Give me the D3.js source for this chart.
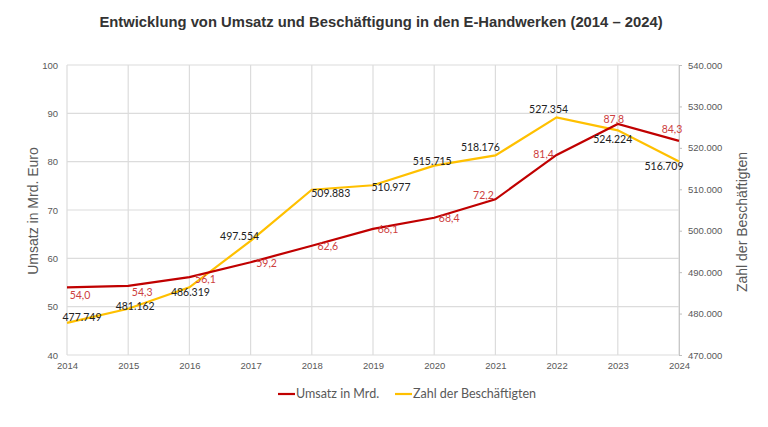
<!DOCTYPE html>
<html>
<head>
<meta charset="utf-8">
<script src="https://cdn.jsdelivr.net/npm/d3@7"></script>
<style>
  body { margin: 0; background: #fff; }
  svg { display: block; }
</style>
</head>
<body>
<svg width="768" height="427"></svg>
<script>
(function(){
  var years = [2014, 2015, 2016, 2017, 2018, 2019, 2020, 2021, 2022, 2023, 2024];
  var umsatz = [54.0, 54.3, 56.1, 59.2, 62.6, 66.1, 68.4, 72.2, 81.4, 87.8, 84.3];
  var beschaeftigte = [477749, 481162, 486319, 497554, 509883, 510977, 515715, 518176, 527354, 524224, 516709];
  var leftTicks = [40, 50, 60, 70, 80, 90, 100];
  var rightTicks = [470000, 480000, 490000, 500000, 510000, 520000, 530000, 540000];

  // label nudges (like excel's manual label placement)
  var redOff = [[13,8],[14,6],[16,2],[16,1],[16,1],[15,0],[15,1],[-12,-4],[-13,-1],[-4,-5],[-7,-12]];
  var blackOff = [[15,-6],[7,-2],[1,5],[-11,-5],[19,4],[18,2],[-2,-4],[-15,-8],[-8,-8],[-5,9],[-15,5]];

  var de = d3.formatLocale({decimal: ",", thousands: ".", grouping: [3], currency: ["", " €"]});
  var f1 = de.format(".1f"), fInt = de.format(",d");

  var svg = d3.select('svg');
  var m = {l: 67, r: 679, t: 65, b: 355};

  var x = d3.scaleLinear().domain([2014, 2024]).range([m.l, m.r]);
  var yL = d3.scaleLinear().domain([40, 100]).range([m.b, m.t]);
  var yR = d3.scaleLinear().domain([470000, 540000]).range([m.b, m.t]);

  svg.append("text")
    .attr("x", 381).attr("y", 27)
    .attr("text-anchor", "middle")
    .style("font-family", "Liberation Sans, Arial, sans-serif")
    .style("font-weight", "bold").style("font-size", "14.8px")
    .style("fill", "#333")
    .text("Entwicklung von Umsatz und Beschäftigung in den E-Handwerken (2014 – 2024)");

  // grid
  svg.append("g").selectAll("line").data(leftTicks).enter().append("line")
    .attr("x1", m.l).attr("x2", m.r)
    .attr("y1", function(d){ return yL(d); }).attr("y2", function(d){ return yL(d); })
    .style("stroke", "#dcdcdc").style("stroke-width", 1.2);
  svg.append("g").selectAll("line").data(years).enter().append("line")
    .attr("x1", function(d){ return x(d); }).attr("x2", function(d){ return x(d); })
    .attr("y1", m.t).attr("y2", m.b)
    .style("stroke", "#dcdcdc").style("stroke-width", 1.2);

  // axes
  var gx = svg.append("g").attr("transform", "translate(0," + m.b + ")")
    .call(d3.axisBottom(x).tickValues(years).tickFormat(d3.format("d")).tickSize(0).tickPadding(7));
  var gl = svg.append("g").attr("transform", "translate(" + m.l + ",0)")
    .call(d3.axisLeft(yL).tickValues(leftTicks).tickSize(0).tickPadding(9));
  var gr = svg.append("g").attr("transform", "translate(" + m.r + ",0)")
    .call(d3.axisRight(yR).tickValues(rightTicks).tickFormat(fInt).tickSize(3).tickPadding(6));
  [gx, gl, gr].forEach(function(g){
    g.selectAll(".domain").style("stroke", "#c8c8c8");
    g.selectAll(".tick line").style("stroke", "#bfbfbf");
    g.selectAll("text").style("font-family", "Liberation Sans, Arial, sans-serif")
      .style("font-size", "9.5px").style("fill", "#595959");
  });
  gx.select(".domain").remove();
  gl.select(".domain").remove();

  svg.append("text")
    .attr("transform", "translate(38,211) rotate(-90)")
    .attr("text-anchor", "middle")
    .style("font-family", "Liberation Sans, Arial, sans-serif")
    .style("font-size", "14px").style("fill", "#595959")
    .text("Umsatz in Mrd. Euro");
  svg.append("text")
    .attr("transform", "translate(747,222) rotate(-90)")
    .attr("text-anchor", "middle")
    .style("font-family", "Liberation Sans, Arial, sans-serif")
    .style("font-size", "14px").style("fill", "#595959")
    .text("Zahl der Beschäftigten");

  var lineL = d3.line().x(function(d, i){ return x(years[i]); }).y(function(d){ return yL(d); });
  var lineR = d3.line().x(function(d, i){ return x(years[i]); }).y(function(d){ return yR(d); });

  svg.append("path").datum(beschaeftigte).attr("d", lineR)
    .style("fill", "none").style("stroke", "#FFC000").style("stroke-width", 2.2);
  svg.append("path").datum(umsatz).attr("d", lineL)
    .style("fill", "none").style("stroke", "#C00000").style("stroke-width", 2.2);

  svg.append("g").selectAll("text").data(umsatz).enter().append("text")
    .attr("x", function(d, i){ return x(years[i]) + redOff[i][0]; })
    .attr("y", function(d, i){ return yL(d) + redOff[i][1]; })
    .attr("dy", "0.35em").attr("text-anchor", "middle")
    .style("font-family", "Lato, sans-serif").style("font-size", "10.5px")
    .style("fill", "#CD4040")
    .text(function(d){ return f1(d); });

  svg.append("g").selectAll("text").data(beschaeftigte).enter().append("text")
    .attr("x", function(d, i){ return x(years[i]) + blackOff[i][0]; })
    .attr("y", function(d, i){ return yR(d) + blackOff[i][1]; })
    .attr("dy", "0.35em").attr("text-anchor", "middle")
    .style("font-family", "Lato, sans-serif").style("font-size", "10.5px")
    .style("fill", "#222")
    .text(function(d){ return fInt(d); });

  // legend
  var legend = [["Umsatz in Mrd.", "#C00000", 278], ["Zahl der Beschäftigten", "#FFC000", 395]];
  var lg = svg.append("g").selectAll("g").data(legend).enter().append("g")
    .attr("transform", function(d){ return "translate(" + d[2] + ",394)"; });
  lg.append("line").attr("x1", 0).attr("x2", 17)
    .style("stroke", function(d){ return d[1]; }).style("stroke-width", 2.2);
  lg.append("text").attr("x", 18).attr("dy", "0.35em")
    .style("font-family", "Lato, sans-serif").style("font-size", "12.5px")
    .style("fill", "#595959")
    .text(function(d){ return d[0]; });
})();
</script>
</body>
</html>
